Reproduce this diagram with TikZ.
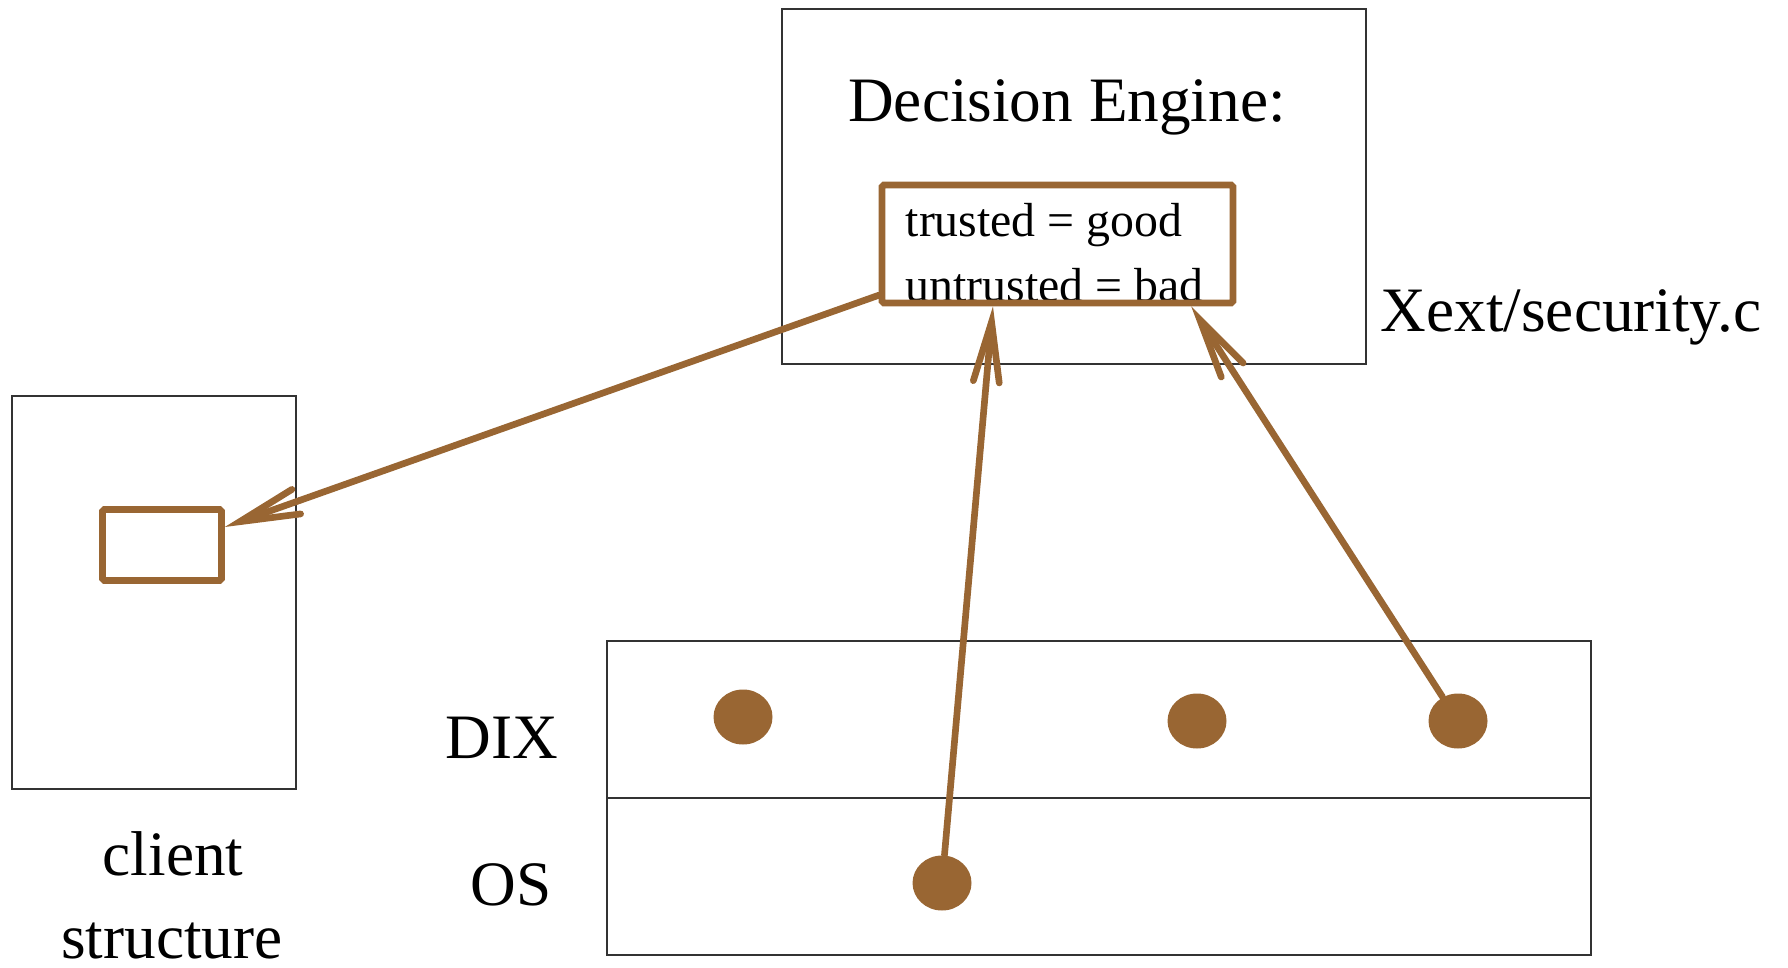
\documentclass[tikz,border=0pt]{standalone}
\usepackage{fontspec}
\setmainfont{Liberation Serif}
\usetikzlibrary{arrows.meta,shapes.geometric}
\definecolor{xbrown}{RGB}{153,102,51}

\begin{document}
\begin{tikzpicture}[scale=1]
  \tikzset{ frame/.style={draw=black!80,line width=0.45pt,inner sep=0pt},
    brownbox/.style={draw=xbrown,line width=1.9pt,inner sep=0pt,rounded corners=0.5pt},
    p/.style={ellipse,fill=xbrown,inner sep=0pt,minimum width=0.59cm,minimum height=0.55cm},
    lbl/.style={inner sep=0pt,font=\fontsize{18}{22}\selectfont},
    rule/.style={inner sep=0pt,anchor=base west,font=\fontsize{13.6}{16}\selectfont},
    link/.style={xbrown,line width=1.9pt,line cap=round,
      -{Straight Barb[length=0.2pt,width=0.2pt,sep=-0.6mm]Straight Barb[length=6mm,width=2.6mm,line cap=round]}},
  }
  \useasboundingbox (0,0) rectangle (17.88,-9.68);

  % decision engine
  \node[frame,minimum width=5.84cm,minimum height=3.55cm] (engine) at (10.74,-1.865) {};
  \node[lbl,anchor=base] (title) at (10.67,-1.22) {Decision Engine:};
  \node[rule] (good) at (9.05,-2.37) {trusted = good};
  \node[rule] (bad)  at (9.05,-3.02) {untrusted = bad};
  \node[brownbox,minimum width=3.51cm,minimum height=1.18cm] (rules) at (10.575,-2.44) {};
  \node[lbl,anchor=base west] (file) at (13.80,-3.32) {Xext/security.c};

  % client
  \node[frame,minimum width=2.84cm,minimum height=3.93cm] (client) at (1.54,-5.925) {};
  \node[brownbox,minimum width=1.19cm,minimum height=0.71cm] (field) at (1.62,-5.45) {};
  \node[lbl,anchor=base] (cname1) at (1.73,-8.75) {client};
  \node[lbl,anchor=base] (cname2) at (1.72,-9.58) {structure};

  % server layers
  \node[frame,minimum width=9.84cm,minimum height=3.14cm] (server) at (10.99,-7.98) {};
  \draw[frame] (server.west) -- (server.east);
  \node[lbl,anchor=base] (dix) at (5.02,-7.58) {DIX};
  \node[lbl,anchor=base] (os)  at (5.11,-9.05) {OS};

  \node[p] (1) at (7.43,-7.17)  {};
  \node[p] (2) at (11.97,-7.21) {};
  \node[p] (3) at (14.58,-7.21) {};
  \node[p] (4) at (9.42,-8.83)  {};

  % the arrows
  \draw[link] (rules.196) -- (field.16);
  \draw[link] (4) -- (rules.224);
  \draw[link] (3) -- (rules.335);
\end{tikzpicture}
\end{document}
